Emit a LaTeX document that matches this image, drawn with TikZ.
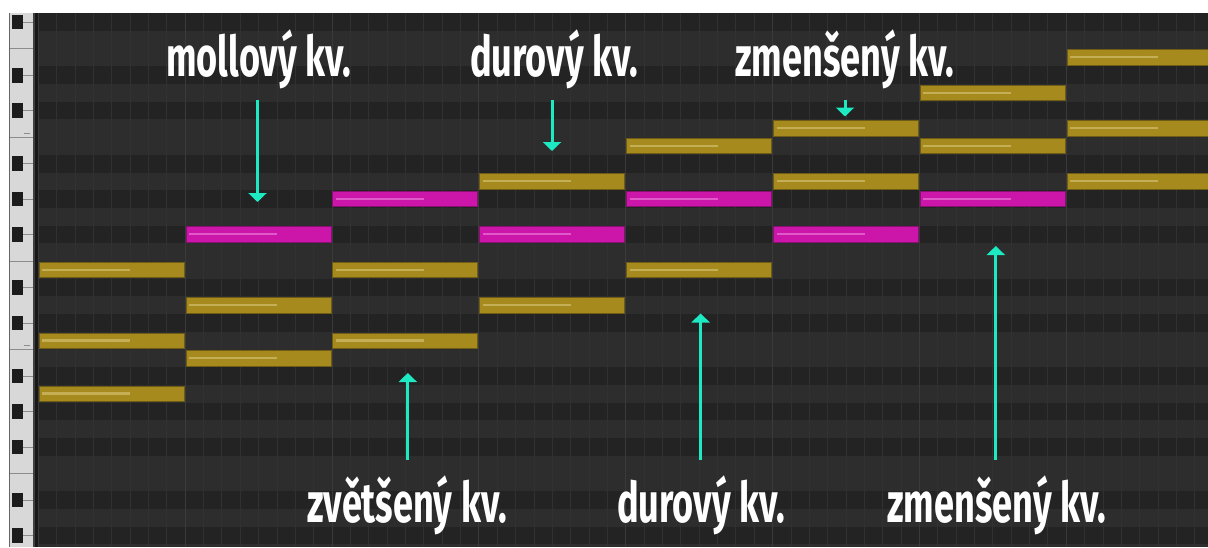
\documentclass[tikz,border=0pt]{standalone}
\usepackage{fontspec}
\usetikzlibrary{arrows.meta}
\newfontfamily\lblfont{Fira Sans}[FakeStretch=0.645]
\definecolor{rowlight}{HTML}{2D2D2D}
\definecolor{rowdark}{HTML}{232323}
\definecolor{beatline}{HTML}{313131}
\definecolor{goldnote}{HTML}{A68A1E}
\definecolor{goldedge}{HTML}{6E5C14}
\definecolor{goldhi}{HTML}{D2C070}
\definecolor{magnote}{HTML}{CB16A9}
\definecolor{magedge}{HTML}{8A0F72}
\definecolor{maghi}{HTML}{E878D6}
\definecolor{arrowc}{HTML}{1DE9C2}
\definecolor{keywhite}{HTML}{D8D8D8}
\definecolor{keyblack}{HTML}{1C1C1C}
\tikzset{
  lbl/.style={anchor=base west, inner sep=0pt, text=white, font=\lblfont\bfseries\fontsize{56}{56}\selectfont},
  pointer/.style={draw=arrowc, line width=3pt, -{Triangle[width=18pt,length=9pt]}},
  goldn/.style={fill=goldnote, draw=goldedge, line width=0.8pt},
  magn/.style={fill=magnote, draw=magedge, line width=0.8pt},
  goldh/.style={draw=goldhi, line width=2.2pt, opacity=0.7},
  magh/.style={draw=maghi, line width=2.2pt, opacity=0.7}
}
\begin{document}
\begin{tikzpicture}[x=1pt,y=-1pt]
\useasboundingbox (0,0) rectangle (1208,547);
\fill[white] (0,0) rectangle (1208,547);
\begin{scope}
\clip (0,0) rectangle (1208,547);
% grid background
\fill[rowlight] (33,13) rectangle (1208,547);
\foreach \k in {-2,1,3,6,8,10,13,15,18,20,22,25,27}{
  \fill[rowdark] (33,{48.65+17.7*\k}) rectangle (1208,{48.65+17.7*(\k+1)});
}
% beat lines
\foreach \i in {0,...,64}{
  \draw[beatline, line width=0.8pt] ({38.3+18.356*\i},13) -- ({38.3+18.356*\i},547);
}
\foreach \i in {0,...,8}{
  \draw[draw=black!70!white, line width=0.8pt, opacity=0.35] ({38.3+146.85*\i},13) -- ({38.3+146.85*\i},547);
}
% piano strip
\fill[keywhite] (9.5,13) rectangle (33,547);
\fill[black!75] (33,13) rectangle (35,547);
\fill[rowdark!70!black] (35,13) rectangle (37.5,547);
\draw[black!60, line width=0.6pt] (9.5,13) -- (9.5,547);
\foreach \y in {48.65,261.05,473.45,137.15,349.55}{
  \draw[black!45, line width=0.8pt] (9.5,\y) -- (33,\y);
}
\foreach \k in {-2,1,3,6,8,10,13,15,18,20,22,25,27}{
  \fill[keyblack] (11.5,{48.65+17.7*\k+1.5}) rectangle (23,{48.65+17.7*(\k+1)-1.5});
  \draw[black!45, line width=0.8pt] (23,{48.65+17.7*\k+8.85}) -- (33,{48.65+17.7*\k+8.85});
}
\draw[black!45, line width=0.8pt] (23.5,133.3) -- (30,133.3);
\draw[black!45, line width=0.8pt] (23.5,345.7) -- (30,345.7);
% notes
\foreach \c/\r/\s in {0/12/gold,0/16/gold,0/19/gold,
                      1/10/mag,1/14/gold,1/17/gold,
                      2/8/mag,2/12/gold,2/16/gold,
                      3/7/gold,3/10/mag,3/14/gold,
                      4/5/gold,4/8/mag,4/12/gold,
                      5/4/gold,5/7/gold,5/10/mag,
                      6/2/gold,6/5/gold,6/8/mag,
                      7/0/gold,7/4/gold,7/7/gold}{
  \path[\s n] ({38.3+146.85*\c+0.8},{48.65+17.7*\r+1.2}) rectangle ({38.3+146.85*(\c+1)-1},{48.65+17.7*(\r+1)-1.2});
  \path[\s h] ({38.3+146.85*\c+4},{48.65+17.7*\r+8.6}) -- ({38.3+146.85*\c+92},{48.65+17.7*\r+8.6});
}
\end{scope}
% labels
\node[lbl] (mollT) at (166,76.5) {mollový kv.};
\node[lbl] (durT) at (470,76.5) {durový kv.};
\node[lbl] (zmenT) at (735,76.5) {zmenšený kv.};
\node[lbl] (zvetB) at (307,522) {zvětšený kv.};
\node[lbl] (durB) at (617,522) {durový kv.};
\node[lbl] (zmenB) at (887,522) {zmenšený kv.};
% arrow ends
\coordinate (a1s) at (257.5,100);
\coordinate (a1e) at (257.5,202);
\coordinate (a2s) at (552,100);
\coordinate (a2e) at (552,151);
\coordinate (a3s) at (845,100);
\coordinate (a3e) at (845,116.5);
\coordinate (b1s) at (407.8,460);
\coordinate (b1e) at (407.8,373);
\coordinate (b2s) at (700.6,460);
\coordinate (b2e) at (700.6,313.5);
\coordinate (b3s) at (995.8,460);
\coordinate (b3e) at (995.8,246);
\draw[pointer] (a1s) -- (a1e);
\draw[pointer] (a2s) -- (a2e);
\draw[pointer] (a3s) -- (a3e);
\draw[pointer] (b1s) -- (b1e);
\draw[pointer] (b2s) -- (b2e);
\draw[pointer] (b3s) -- (b3e);
\end{tikzpicture}
\end{document}
